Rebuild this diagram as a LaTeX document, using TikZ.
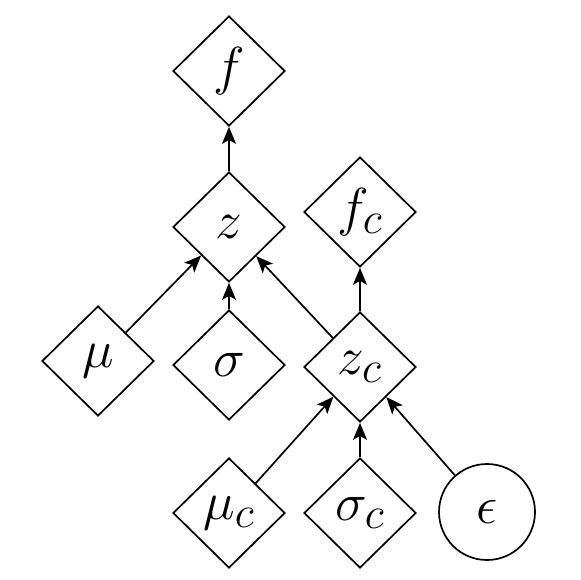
\documentclass[tikz,border=0pt]{standalone}
\usepackage{amsmath,amssymb}
\usepackage{graphicx}
\usepackage{tikz}
\usetikzlibrary{arrows.meta, positioning, shapes.geometric}
\newcommand{\lbl}[1]{\scalebox{2.15}{\Huge$#1$}}

\begin{document}
\begin{tikzpicture}[
  x=1pt, y=-1pt,
  >={Stealth[length=17pt,width=14pt,inset=4pt]},
  dia/.style={
    draw,
    diamond,
    line width=1.7pt,
    minimum width=112pt,
    minimum height=110pt,
    inner sep=0pt
  },
  noise/.style={
    draw,
    circle,
    line width=1.7pt,
    minimum size=96pt,
    inner sep=0pt
  },
  arr/.style={->,line width=1.7pt}
]
\useasboundingbox (0,0) rectangle (581,579);

\node[dia] (f) at (229,71) {\lbl{f}};
\node[dia] (z) at (229,227) {\lbl{z}};
\node[dia] (fc) at (360,212) {\lbl{f_c}};

\node[dia] (mu) at (98,361) {\lbl{\mu}};
\node[dia] (sigma) at (229,365) {\lbl{\sigma}};
\node[dia] (zc) at (360,367) {\lbl{z_c}};

\node[dia] (muc) at (229,513) {\lbl{\mu_c}};
\node[dia] (sigmac) at (360,513) {\lbl{\sigma_c}};
\node[noise] (eps) at (487,512) {\lbl{\epsilon}};

\draw[arr] (z) -- (f);
\draw[arr] (mu) -- (z);
\draw[arr] (sigma) -- (z);
\draw[arr] (zc) -- (z);
\draw[arr] (zc) -- (fc);

% inputs of the second sample
\draw[arr] (muc) -- (zc);
\draw[arr] (sigmac) -- (zc);
\draw[arr] (eps) -- (zc);

\end{tikzpicture}
\end{document}
